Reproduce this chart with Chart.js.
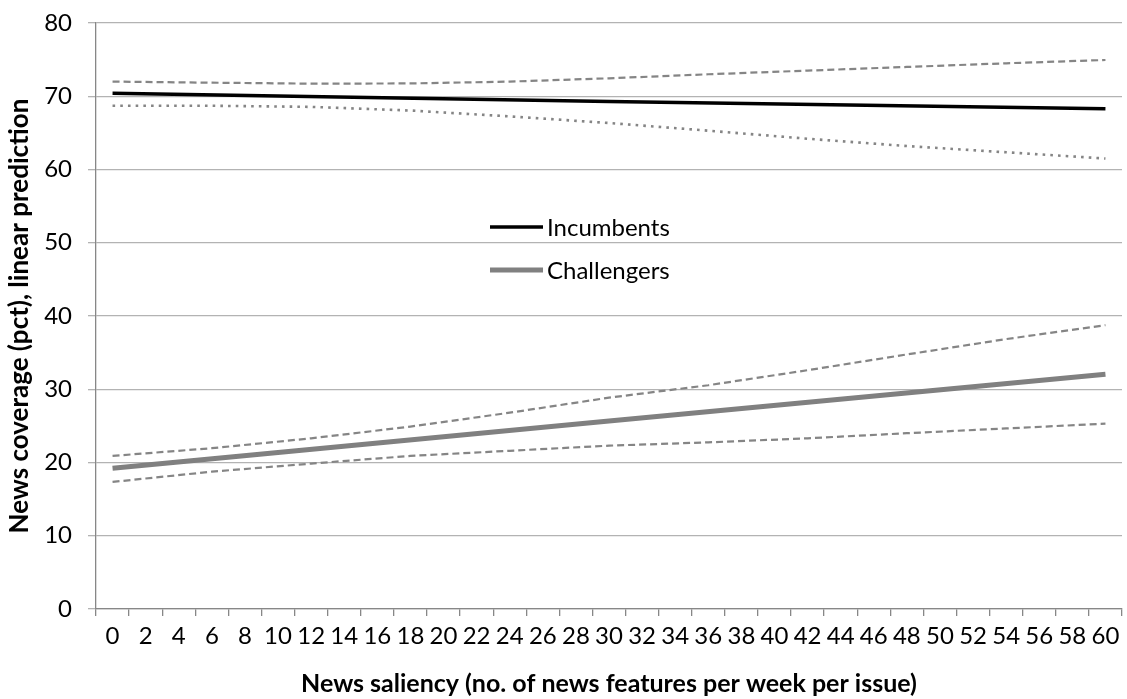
<!DOCTYPE html>
<html>
<head>
<meta charset="utf-8">
<script src="https://cdn.jsdelivr.net/npm/chart.js@4.4.1/dist/chart.umd.min.js"></script>
<style>
  html, body { margin: 0; padding: 0; background: #ffffff; }
  #wrap { width: 1127px; height: 699px; position: relative; }
</style>
</head>
<body>
<div id="wrap"><canvas id="c" width="1127" height="699"></canvas></div>
<script>
// Categories: news saliency (no. of news features per week per issue)
const categories = ["0","2","4","6","8","10","12","14","16","18","20","22","24","26","28","30",
  "32","34","36","38","40","42","44","46","48","50","52","54","56","58","60"];

// Values (null = not read; line spans the gap)
const incumbents = [70.4,null,null,null,null,null,null,null,null,null,null,null,null,null,null,69.3,
  null,null,null,null,null,null,null,null,null,null,null,null,null,null,68.3];
const incumbentsUpper = [72.0,null,null,71.85,null,null,71.72,null,null,71.75,null,null,72.0,null,null,72.45,
  null,null,73.0,null,null,73.5,null,null,74.0,null,null,74.5,null,null,74.95];
const incumbentsLower = [68.7,null,null,68.7,null,null,68.55,null,null,68.05,null,null,67.25,null,null,66.35,
  null,null,65.3,null,null,64.2,null,null,63.2,null,null,62.35,null,null,61.5];

const challengers = [19.2,null,null,null,null,null,null,null,null,null,null,null,null,null,null,25.65,
  null,null,null,null,null,null,null,null,null,null,null,null,null,null,32.05];
const challengersUpper = [20.9,null,null,21.95,null,null,23.3,null,null,24.9,null,null,26.8,null,null,28.85,
  null,null,30.55,null,null,32.6,null,null,34.75,null,null,36.85,null,null,38.75];
const challengersLower = [17.35,null,null,18.75,null,null,19.85,null,null,20.9,null,null,21.6,null,null,22.3,
  null,null,22.75,null,null,23.3,null,null,24.0,null,null,24.65,null,null,25.3];

const yTicks = [0,10,20,30,40,50,60,70,80];
const xTitle = "News saliency (no. of news features per week per issue)";
const yTitle = "News coverage (pct), linear prediction";
const legendLabels = ["Incumbents", "Challengers"];

const FONT = "Lato, 'Open Sans', 'Noto Sans', sans-serif";
const GREY_CI = "#858585";

// In-plot legend drawn from the labelled datasets
const innerLegend = {
  id: 'innerLegend',
  afterDraw(chart, args, opts) {
    const ctx = chart.ctx;
    const a = chart.chartArea;
    const items = chart.data.datasets.filter(d => legendLabels.includes(d.label));
    ctx.save();
    items.forEach((ds, k) => {
      const y = a.top + opts.top + k * opts.rowGap;
      const x0 = a.left + opts.left;
      ctx.strokeStyle = ds.borderColor;
      ctx.lineWidth = ds.borderWidth;
      ctx.lineCap = 'butt';
      ctx.setLineDash([]);
      ctx.beginPath();
      ctx.moveTo(x0, y);
      ctx.lineTo(x0 + opts.lineLen, y);
      ctx.stroke();
      ctx.fillStyle = '#000000';
      ctx.font = opts.font;
      ctx.textAlign = 'left';
      ctx.textBaseline = 'middle';
      ctx.fillText(ds.label, x0 + opts.lineLen + opts.gap, y + 1);
    });
    ctx.restore();
  }
};

new Chart(document.getElementById('c'), {
  type: 'line',
  data: {
    labels: categories,
    datasets: [
      { label: "Incumbents", data: incumbents, borderColor: "#000000", borderWidth: 3.5 },
      { label: "Incumbents upper", data: incumbentsUpper, borderColor: GREY_CI, borderWidth: 2.2, borderDash: [7, 4] },
      { label: "Incumbents lower", data: incumbentsLower, borderColor: GREY_CI, borderWidth: 2.6, borderDash: [2.6, 5.1] },
      { label: "Challengers", data: challengers, borderColor: "#808080", borderWidth: 5 },
      { label: "Challengers upper", data: challengersUpper, borderColor: GREY_CI, borderWidth: 2.2, borderDash: [7, 4] },
      { label: "Challengers lower", data: challengersLower, borderColor: GREY_CI, borderWidth: 2.2, borderDash: [7, 4] }
    ].map(d => Object.assign({ pointRadius: 0, pointHoverRadius: 0, tension: 0, spanGaps: true, fill: false, borderCapStyle: 'butt' }, d))
  },
  options: {
    responsive: false,
    animation: false,
    devicePixelRatio: 1,
    layout: { padding: { left: 4, right: 5, top: 23, bottom: 0 } },
    plugins: {
      legend: { display: false },
      tooltip: { enabled: false },
      innerLegend: { left: 394, top: 204, rowGap: 43, lineLen: 53, gap: 4, font: "24px " + FONT }
    },
    scales: {
      x: {
        type: 'category',
        offset: true,
        grid: { offset: true, drawOnChartArea: false, drawTicks: true, tickLength: 7, color: '#878787', lineWidth: 1.3 },
        border: { display: true, color: '#878787', width: 1.3 },
        ticks: { autoSkip: false, maxRotation: 0, minRotation: 0, padding: 6, color: '#000000', font: { family: FONT, size: 24 } },
        title: { display: true, text: xTitle, color: '#000000', font: { family: FONT, size: 25, weight: 'bold' }, padding: 0 },
        afterFit(s) { s.height = 90; s.paddingLeft = 0; s.paddingRight = 0; }
      },
      y: {
        min: 0, max: 80,
        afterBuildTicks(s) { s.ticks = yTicks.map(v => ({ value: v })); },
        grid: { color: '#b3b3b3', lineWidth: 1.3, tickLength: 8, drawTicks: true },
        border: { display: true, color: '#878787', width: 1.3 },
        ticks: { padding: 16, color: '#000000', font: { family: FONT, size: 24 } },
        title: { display: true, text: yTitle, color: '#000000', font: { family: FONT, size: 26, weight: 'bold' }, padding: 0 },
        afterFit(s) { s.width = 92; s.paddingTop = 0; s.paddingBottom = 0; }
      }
    }
  },
  plugins: [innerLegend]
});
</script>
</body>
</html>
